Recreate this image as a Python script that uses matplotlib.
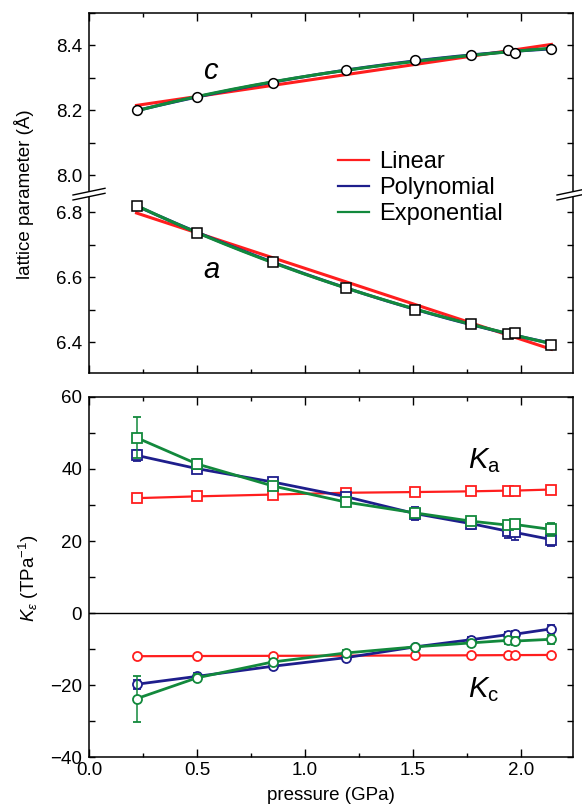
import numpy as np
import matplotlib
matplotlib.use('Agg')
import matplotlib.pyplot as plt
from matplotlib.lines import Line2D
from matplotlib.patches import Polygon
from matplotlib.ticker import MultipleLocator

plt.rcParams['font.family'] = ['Liberation Sans', 'DejaVu Sans']
plt.rcParams['mathtext.fontset'] = 'custom'
plt.rcParams['mathtext.rm'] = 'Liberation Sans'
plt.rcParams['mathtext.it'] = 'Liberation Sans:italic'

# measured pressures (GPa)
pressure = [0.22, 0.50, 0.85, 1.19, 1.51, 1.77, 1.94, 1.97, 2.14]

# lattice parameters (Angstrom)
lat_c = [8.200, 8.241, 8.285, 8.323, 8.354, 8.372, 8.385, 8.378, 8.388]
lat_a = [6.821, 6.738, 6.647, 6.566, 6.499, 6.456, 6.425, 6.429, 6.391]

# linear compressibilities (TPa^-1) for each fit model
ka_lin = [31.9, 32.4, 32.9, 33.4, 33.6, 33.8, 34.0, 34.0, 34.3]
ka_lin_err = [0.5] * 9
ka_poly = [43.8, 40.1, 36.4, 32.3, 27.6, 24.8, 22.7, 22.4, 20.4]
ka_poly_err = [1.5, 1.3, 1.1, 0.9, 1.8, 1.6, 1.8, 2.0, 1.9]
ka_exp = [48.7, 41.4, 35.3, 30.8, 27.8, 25.5, 24.4, 24.6, 23.2]
ka_exp_err = [5.7, 1.3, 1.1, 0.9, 1.0, 1.0, 1.2, 1.3, 1.7]

kc_lin = [-12.0, -11.95, -11.9, -11.85, -11.8, -11.75, -11.7, -11.7, -11.65]
kc_lin_err = [0.3] * 9
kc_poly = [-19.8, -17.6, -14.8, -12.4, -9.4, -7.4, -6.0, -5.9, -4.4]
kc_poly_err = [1.3, 0.9, 0.8, 0.7, 0.6, 0.7, 0.8, 0.9, 1.0]
kc_exp = [-23.8, -18.0, -13.6, -11.1, -9.4, -8.3, -7.6, -7.8, -7.3]
kc_exp_err = [6.4, 1.0, 0.8, 0.7, 0.6, 0.8, 0.9, 1.0, 1.2]

models = ['Linear', 'Polynomial', 'Exponential']
colors = ['#ff1e1e', '#1e1e8c', '#12893c']


def fit_curves(p, y):
    """linear, quadratic and exponential least-squares fits"""
    p = np.asarray(p)
    y = np.asarray(y)
    pp = np.linspace(p.min(), p.max(), 200)
    lin = np.polyval(np.polyfit(p, y, 1), pp)
    poly = np.polyval(np.polyfit(p, y, 2), pp)
    best = None
    for tau in np.linspace(0.3, 20, 400):
        A = np.column_stack([np.ones_like(p), np.exp(-p / tau)])
        coef = np.linalg.lstsq(A, y, rcond=None)[0]
        err = np.sum((A @ coef - y) ** 2)
        if best is None or err < best[0]:
            best = (err, tau, coef)
    _, tau, coef = best
    expo = coef[0] + coef[1] * np.exp(-pp / tau)
    return pp, [lin, poly, expo]


def style_axis(ax):
    for s in ax.spines.values():
        s.set_linewidth(1.1)
    ax.xaxis.set_major_locator(MultipleLocator(0.5))
    ax.xaxis.set_minor_locator(MultipleLocator(0.25))
    ax.tick_params(which='both', direction='in', labelsize=13.5, width=1.0)
    ax.tick_params(axis='x', which='major', length=6)
    ax.tick_params(axis='x', which='minor', length=3)
    ax.tick_params(axis='y', which='both', length=4, pad=5)
    ax.set_xlim(0, 2.24)


W, H = 582, 807
fig = plt.figure(figsize=(W / 100, H / 100), dpi=100)


def px_axes(x0, y0, x1, y1):
    return fig.add_axes([x0 / W, 1 - y1 / H, (x1 - x0) / W, (y1 - y0) / H])


ax_c = px_axes(89, 13, 573, 193)
ax_a = px_axes(89, 193, 573, 373)
ax_k = px_axes(89, 397, 573, 757)

# --- lattice parameters with broken y axis ---
for ax, data, mk, ms in [(ax_c, lat_c, 'o', 7), (ax_a, lat_a, 's', 6.5)]:
    style_axis(ax)
    pp, curves = fit_curves(pressure, data)
    for curve, col in zip(curves, colors):
        ax.plot(pp, curve, color=col, lw=2.2, zorder=2)
    ax.plot(pressure, data, ls='none', marker=mk, ms=ms, mfc='white',
            mec='black', mew=1.1, zorder=4, clip_on=False)

ax_c.set_ylim(7.945, 8.5)
ax_c.yaxis.set_major_locator(MultipleLocator(0.2))
ax_c.yaxis.set_minor_locator(MultipleLocator(0.1))
ax_c.spines['bottom'].set_visible(False)
ax_c.tick_params(which='both', top=True, bottom=False, right=True,
                 labelbottom=False)

ax_a.set_ylim(6.305, 6.86)
ax_a.yaxis.set_major_locator(MultipleLocator(0.2))
ax_a.yaxis.set_minor_locator(MultipleLocator(0.1))
ax_a.spines['top'].set_visible(False)
ax_a.tick_params(which='both', top=False, bottom=True, right=True,
                 labelbottom=False)

ax_c.text(0.528, 8.298, 'c', fontsize=21, style='italic')
ax_a.text(0.528, 6.598, 'a', fontsize=21, style='italic')

# break marks on both sides
for xc in (89, 573):
    quad = [(xc - 16, 195), (xc + 16, 188.3), (xc + 16, 193.3), (xc - 16, 200)]
    fig.add_artist(Polygon([(x / W, 1 - y / H) for x, y in quad],
                           closed=True, fc='white', ec='none',
                           transform=fig.transFigure, zorder=10))
    for dy in (0, 5):
        fig.add_artist(Line2D([(xc - 16) / W, (xc + 16) / W],
                              [1 - (195 + dy) / H, 1 - (188.3 + dy) / H],
                              color='black', lw=1.0,
                              transform=fig.transFigure, zorder=11))

handles = [Line2D([], [], color=c, lw=1.6) for c in colors]
fig.legend(handles, models, loc='upper left',
           bbox_to_anchor=(338 / W, 1 - 151 / H), frameon=False,
           fontsize=17, handlelength=1.3, handletextpad=0.45,
           labelspacing=0.17, borderpad=0, borderaxespad=0)

fig.text(24 / W, 1 - 194 / H, 'lattice parameter (Å)', rotation=90,
         ha='center', va='center', fontsize=13.5)

# --- compressibilities ---
style_axis(ax_k)
ax_k.set_ylim(-40, 60)
ax_k.yaxis.set_major_locator(MultipleLocator(20))
ax_k.yaxis.set_minor_locator(MultipleLocator(10))
ax_k.tick_params(which='both', top=True, right=True)
ax_k.axhline(0, color='black', lw=1.0, zorder=1)

series = [
    (ka_lin, ka_lin_err, kc_lin, kc_lin_err),
    (ka_poly, ka_poly_err, kc_poly, kc_poly_err),
    (ka_exp, ka_exp_err, kc_exp, kc_exp_err),
]
for i, ((ka, ka_e, kc, kc_e), col) in enumerate(zip(series, colors)):
    lw = 1.6 if i == 0 else 2.0
    for vals, errs, mk in [(ka, ka_e, 's'), (kc, kc_e, 'o')]:
        ax_k.errorbar(pressure, vals, yerr=errs, color=col, lw=lw,
                      marker=mk, ms=6.5, mfc='white', mec=col, mew=1.3,
                      capsize=3, elinewidth=1.1, capthick=1.1, zorder=3 + i)

ax_k.text(1.755, 40.2, r'$K_\mathrm{a}$', fontsize=21)
ax_k.text(1.755, -23.4, r'$K_\mathrm{c}$', fontsize=21)

ax_k.set_xlabel('pressure (GPa)', fontsize=13.5)
ax_k.xaxis.set_label_coords(0.5, -0.083)
fig.text(29 / W, 1 - 578 / H, r'$K_\varepsilon$ (TPa$^{-1}$)', rotation=90,
         ha='center', va='center', fontsize=13.5)

fig.savefig('out.png', dpi=100)
